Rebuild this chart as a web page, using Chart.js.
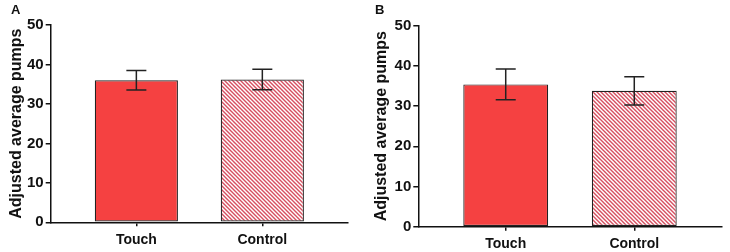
<!DOCTYPE html>
<html>
<head>
<meta charset="utf-8">
<script src="https://cdn.jsdelivr.net/npm/chart.js@4"></script>
<style>
  body { margin: 0; background: #fff; }
  .panel { position: absolute; top: 0; width: 365px; height: 252px; }
  .tag { position: absolute; top: 2px; font: bold 13px "Liberation Sans", Arial, sans-serif; color: #111; }
</style>
</head>
<body>
<div class="panel" style="left:0"><canvas id="chartA"></canvas></div>
<div class="panel" style="left:365px"><canvas id="chartB"></canvas></div>
<div class="tag" style="left:11px">A</div>
<div class="tag" style="left:375px">B</div>
<script>
// données
const categories = ['Touch', 'Control'];
const yTicks = [0, 10, 20, 30, 40, 50];
const meanA = [36.0, 36.2];
const errA = [2.5, 2.6];
const meanB = [35.4, 33.8];
const errB = [3.8, 3.5];

const FONT = '"Liberation Sans", Arial, sans-serif';

// motif hachuré pour la barre Control
function makeHatch() {
    const c = document.createElement('canvas');
    c.width = 8; c.height = 8;
    const g = c.getContext('2d');
    g.fillStyle = '#fff';
    g.fillRect(0, 0, 8, 8);
    g.strokeStyle = '#d64f60';
    g.lineWidth = 1.4;
    g.beginPath();
    for (let k = -2; k <= 2; k++) {
        g.moveTo(k * 4 - 4, -4);
        g.lineTo(k * 4 + 12, 12);
    }
    g.stroke();
    return g.createPattern(c, 'repeat');
}

// barres d'erreur dessinées avec les échelles de Chart.js
const errorBars = {
    id: 'errorBars',
    afterDatasetsDraw(chart, args, opts) {
        const ctx = chart.ctx;
        const x = chart.scales.x, y = chart.scales.y;
        const means = chart.data.datasets[0].data;
        ctx.save();
        ctx.strokeStyle = '#222';
        ctx.lineWidth = 1.5;
        means.forEach((p, i) => {
            const px = x.getPixelForValue(p.x);
            const hi = y.getPixelForValue(p.y + opts.err[i]);
            const lo = y.getPixelForValue(p.y - opts.err[i]);
            ctx.beginPath();
            ctx.moveTo(px, hi); ctx.lineTo(px, lo);
            ctx.moveTo(px - 10, hi); ctx.lineTo(px + 10, hi);
            ctx.moveTo(px - 10, lo); ctx.lineTo(px + 10, lo);
            ctx.stroke();
        });
        ctx.restore();
    }
};

function buildChart(id, means, errs, box) {
    const ctx = document.getElementById(id).getContext('2d');
    return new Chart(ctx, {
        type: 'bar',
        data: {
            datasets: [{
                data: means.map((v, i) => ({ x: i + 1, y: v })),
                backgroundColor: ['#f54141', makeHatch()],
                borderColor: '#222',
                borderWidth: 1.2,
                borderSkipped: false,
                barPercentage: 0.66,
                categoryPercentage: 1
            }]
        },
        options: {
            responsive: true,
            maintainAspectRatio: false,
            animation: false,
            layout: { padding: { top: box.top, right: box.right, left: 0, bottom: 0 } },
            plugins: {
                legend: { display: false },
                tooltip: { enabled: false },
                errorBars: { err: errs }
            },
            scales: {
                x: {
                    type: 'linear',
                    min: 0.32,
                    max: 2.68,
                    offset: false,
                    afterFit: s => { s.height = box.bottom; },
                    afterBuildTicks: s => { s.ticks = categories.map((c, i) => ({ value: i + 1 })); },
                    ticks: {
                        includeBounds: false,
                        color: '#111',
                        padding: 5,
                        font: { family: FONT, size: 14, weight: 'bold' },
                        callback: v => categories[v - 1] || ''
                    },
                    grid: { display: true, offset: false, drawOnChartArea: false, drawTicks: true, tickLength: 4, color: '#111', lineWidth: 1.5 },
                    border: { display: true, color: '#111', width: 1.5 }
                },
                y: {
                    min: 0,
                    max: 50,
                    afterFit: s => { s.width = box.left; },
                    afterBuildTicks: s => { s.ticks = yTicks.map(v => ({ value: v })); },
                    ticks: {
                        color: '#111',
                        padding: 2,
                        font: { family: FONT, size: 15, weight: 'bold' }
                    },
                    title: {
                        display: true,
                        text: 'Adjusted average pumps',
                        color: '#111',
                        padding: { top: 7, bottom: 0 },
                        font: { family: FONT, size: 16, weight: 'bold' }
                    },
                    grid: { display: true, drawOnChartArea: false, drawTicks: true, tickLength: 5, color: '#111', lineWidth: 1.5 },
                    border: { display: true, color: '#111', width: 1.5 }
                }
            }
        },
        plugins: [errorBars]
    });
}

buildChart('chartA', meanA, errA, { left: 50.7, right: 17, top: 25, bottom: 29.7 });
buildChart('chartB', meanB, errB, { left: 53.3, right: 8.3, top: 25.7, bottom: 25.3 });
</script>
</body>
</html>
